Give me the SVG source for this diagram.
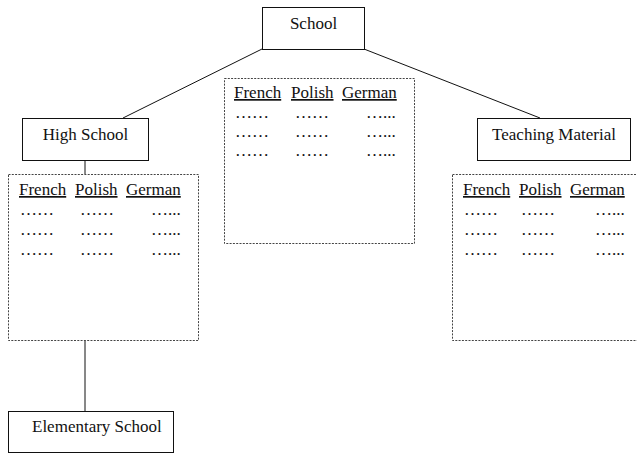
<svg xmlns="http://www.w3.org/2000/svg" width="637" height="454" viewBox="0 0 637 454">
<style>
text{font-family:"Liberation Serif","Times New Roman",serif;font-size:17px;fill:#111}
.box{fill:#fff;stroke:#111;stroke-width:1}
.tbl{fill:#fff;stroke:#444;stroke-width:1;stroke-dasharray:2 1.3}
.h{text-decoration:underline}
.c{stroke:#111;stroke-width:1;fill:none}
</style>
<rect width="637" height="454" fill="#fff"/>
<g id="connectors">
<line class="c" x1="262" y1="49" x2="123" y2="118"/>
<line class="c" x1="364" y1="49" x2="540" y2="118"/>
<line class="c" x1="85" y1="161" x2="85" y2="174"/>
<line class="c" x1="85" y1="341" x2="85" y2="411"/>
</g>
<g id="school">
<rect class="box" x="262.5" y="7.5" width="102" height="42"/>
<text x="313.5" y="29" text-anchor="middle">School</text>
</g>
<g id="high-school">
<rect class="box" x="22.5" y="118.5" width="126" height="42"/>
<text x="85.5" y="140" text-anchor="middle">High School</text>
</g>
<g id="teaching-material">
<rect class="box" x="477.5" y="118.5" width="153" height="42"/>
<text x="554" y="140" text-anchor="middle">Teaching Material</text>
</g>
<g id="elementary-school">
<rect class="box" x="8.5" y="411.5" width="165" height="41"/>
<text x="32" y="432">Elementary School</text>
</g>
<g id="table-high-school">
<rect class="tbl" x="8.5" y="174.5" width="190" height="166"/>
<text class="h" x="19" y="195">French</text>
<text class="h" x="75" y="195">Polish</text>
<text class="h" x="126" y="195">German</text>
<text x="20" y="215">……</text><text x="80" y="215">……</text><text x="151" y="215">…...</text>
<text x="20" y="235">……</text><text x="80" y="235">……</text><text x="151" y="235">…...</text>
<text x="20" y="255">……</text><text x="80" y="255">……</text><text x="151" y="255">…...</text>
</g>
<g id="table-school">
<rect class="tbl" x="224.5" y="78.5" width="190" height="165"/>
<text class="h" x="234" y="98">French</text>
<text class="h" x="291" y="98">Polish</text>
<text class="h" x="342" y="98">German</text>
<text x="235" y="117.5">……</text><text x="295" y="117.5">……</text><text x="366" y="117.5">…...</text>
<text x="235" y="137">……</text><text x="295" y="137">……</text><text x="366" y="137">…...</text>
<text x="235" y="156">……</text><text x="295" y="156">……</text><text x="366" y="156">…...</text>
</g>
<g id="table-teaching-material">
<rect class="tbl" x="452.5" y="174.5" width="190" height="166"/>
<text class="h" x="463" y="195">French</text>
<text class="h" x="519" y="195">Polish</text>
<text class="h" x="570" y="195">German</text>
<text x="464" y="215">……</text><text x="521" y="215">……</text><text x="595" y="215">…...</text>
<text x="464" y="235">……</text><text x="521" y="235">……</text><text x="595" y="235">…...</text>
<text x="464" y="255">……</text><text x="521" y="255">……</text><text x="595" y="255">…...</text>
</g>
</svg>
